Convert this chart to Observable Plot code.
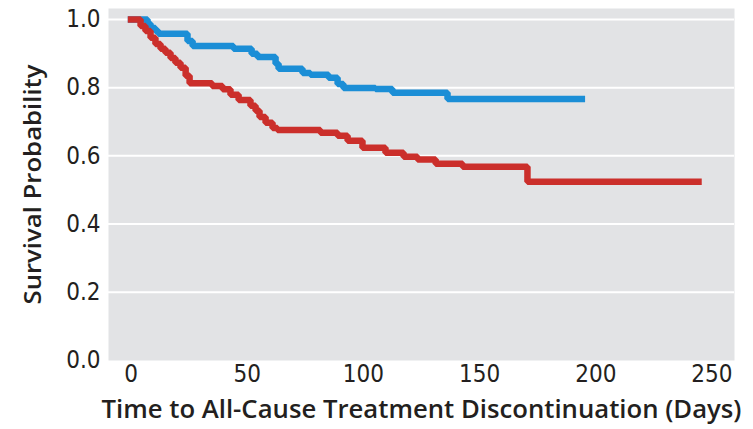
<!DOCTYPE html>
<html>
<head>
<meta charset="utf-8">
<script src="https://cdn.jsdelivr.net/npm/d3@7"></script>
<script src="https://cdn.jsdelivr.net/npm/@observablehq/plot@0.6"></script>
<style>
  html, body { margin: 0; padding: 0; background: #ffffff; }
  #chart { width: 753px; height: 429px; }
</style>
</head>
<body>
<div id="chart"></div>
<script>
// ---- data ----
const xTicks = [0, 50, 100, 150, 200, 250];
const yTicks = [0.0, 0.2, 0.4, 0.6, 0.8, 1.0];
const yTickLabels = ["0.0", "0.2", "0.4", "0.6", "0.8", "1.0"];

const blueTime = [0, 7.1, 8.4, 10.5, 11.8, 24.3, 26.5, 44.1, 51.9, 54.4, 62.2, 63.5, 73.8, 77.2, 85, 88.9, 91.4, 105.2, 112.5, 136.2, 194];
const blueSurv = [1.0, 0.987, 0.975, 0.966, 0.958, 0.937, 0.922, 0.914, 0.899, 0.890, 0.870, 0.855, 0.843, 0.838, 0.829, 0.811, 0.799, 0.796, 0.785, 0.767, 0.767];

const redTime = [0, 4.1, 6.2, 8.4, 10.5, 12.7, 14.8, 17, 19.1, 21.3, 23.5, 25.2, 34.9, 39.4, 42.8, 46.3, 51.4, 53.6, 55.3, 57.9, 60.9, 63, 81.5, 88.9, 93.2, 99.6, 109.5, 117.3, 123.3, 131.1, 142.7, 170.6, 244.2];
const redSurv = [1.0, 0.981, 0.966, 0.946, 0.928, 0.914, 0.902, 0.887, 0.873, 0.858, 0.835, 0.813, 0.805, 0.795, 0.779, 0.764, 0.747, 0.732, 0.714, 0.697, 0.682, 0.676, 0.668, 0.659, 0.644, 0.624, 0.609, 0.597, 0.589, 0.577, 0.568, 0.524, 0.524];

const xTitle = "Time to All-Cause Treatment Discontinuation (Days)";
const yTitle = "Survival Probability";

const blue = blueTime.map((t, i) => ({time: t, surv: blueSurv[i]}));
const red = redTime.map((t, i) => ({time: t, surv: redSurv[i]}));

const titleFont = "'Open Sans', Lato, sans-serif";

const chart = Plot.plot({
  width: 753,
  height: 429,
  marginLeft: 108,
  marginRight: 19,
  marginTop: 8,
  marginBottom: 69,
  style: {fontSize: "24px", fontFamily: "'Liberation Sans Narrow', 'DejaVu Sans Condensed', Lato, sans-serif", color: "#231f20", background: "#ffffff"},
  x: {domain: [-9.7, 259.7], ticks: xTicks, tickSize: 0, tickPadding: 4, label: null},
  y: {domain: [0, 1.032], ticks: yTicks, tickFormat: (d) => yTickLabels[yTicks.indexOf(d)], tickSize: 0, tickPadding: 8, label: null},
  marks: [
    Plot.frame({fill: "#e2e3e5", stroke: null}),
    Plot.ruleY(yTicks.filter(d => d > 0), {stroke: "#ffffff", strokeWidth: 2}),
    Plot.line(blue, {x: "time", y: "surv", curve: "step-after", stroke: "#1b8ed6", strokeWidth: 6.5, strokeLinecap: "square", strokeLinejoin: "miter"}),
    Plot.line(red, {x: "time", y: "surv", curve: "step-after", stroke: "#cb2f2b", strokeWidth: 6.5, strokeLinecap: "square", strokeLinejoin: "miter"}),
    Plot.text([xTitle], {text: d => d, frameAnchor: "bottom", dy: 57, fontSize: 25, fontWeight: 600, fontFamily: titleFont, fill: "#231f20", className: "xtitle"}),
    Plot.text([yTitle], {text: d => d, frameAnchor: "left", textAnchor: "middle", rotate: -90, dx: -75, fontSize: 24, fontWeight: 600, fontFamily: titleFont, fill: "#231f20", className: "ytitle"})
  ]
});
document.getElementById("chart").appendChild(chart);
// fit the titles to the measured widths of the reference
const fit = (sel, len) => {
  chart.querySelectorAll(sel + " text").forEach(t => {
    t.setAttribute("textLength", len);
    t.setAttribute("lengthAdjust", "spacingAndGlyphs");
  });
};
fit(".xtitle", 640);
fit(".ytitle", 240);
</script>
</body>
</html>
